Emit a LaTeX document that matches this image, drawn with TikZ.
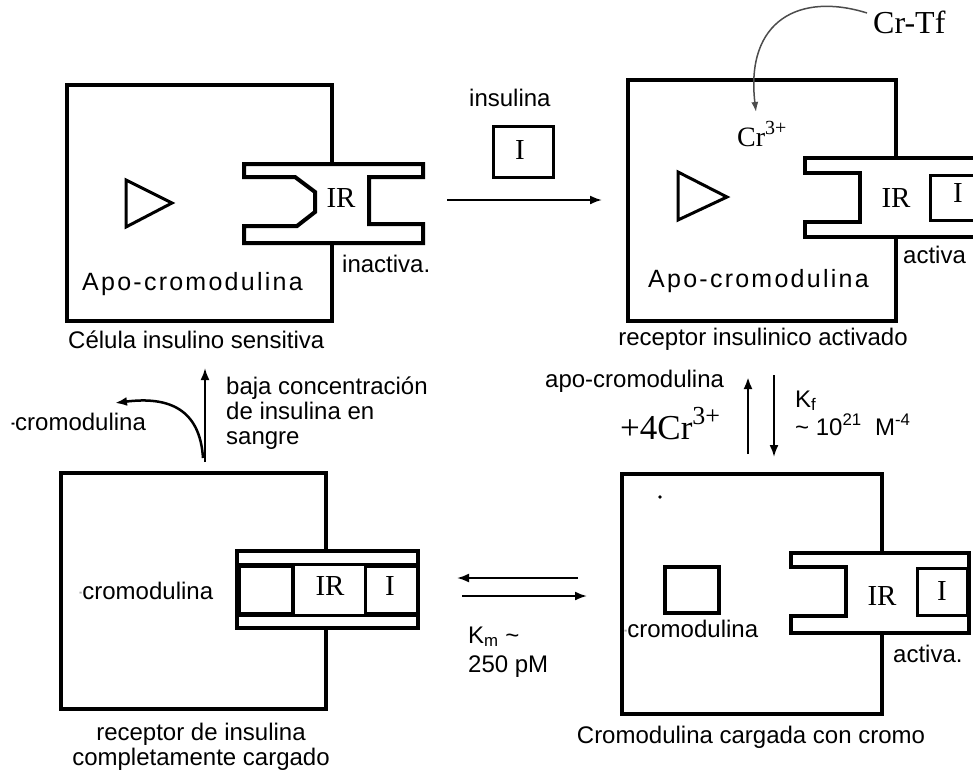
\documentclass[tikz,border=0pt]{standalone}
\usepackage{graphicx}
\usepackage{fontspec}
\setmainfont{Liberation Serif}
\newfontfamily\arial{Liberation Sans}
\newfontfamily\arialsp{Liberation Sans}[LetterSpace=9]
\usetikzlibrary{arrows.meta}
\begin{document}
\begin{tikzpicture}[x=1pt,y=-1pt,
  wall/.style={line width=4pt, line join=miter},
  thinwall/.style={line width=3pt, line join=miter},
  lbl/.style={font=\arial\fontsize{24}{26}\selectfont, inner sep=0pt, anchor=base west},
  lblc/.style={lbl, anchor=base},
  spaced/.style={font=\arialsp\fontsize{25}{27}\selectfont, inner sep=0pt, anchor=base west},
  srf/.style={font=\fontsize{29}{31}\selectfont, inner sep=0pt, anchor=base},
  arr/.style={-{Latex[length=12pt,width=9pt]}, line width=2.5pt},
  thinarr/.style={-{Latex[length=12pt,width=9pt]}, line width=2pt},
  faint/.style={color=black!35}
]
\useasboundingbox (0,0) rectangle (973,771);
\clip (0,0) rectangle (973,771);

% ---------- panel 1 : top left ----------
\draw[wall] (332,164) -- (332,85) -- (67,85) -- (67,321) -- (332,321) -- (332,243);
\draw[wall] (244,164) -- (423,164) -- (423,177) -- (369,177) -- (369,224) -- (423,224)
  -- (423,243) -- (244,243) -- (244,226) -- (297,226) -- (315,212) -- (315,192)
  -- (295,177) -- (244,177) -- cycle;
\draw[thinwall] (126,180) -- (172,203) -- (126,227) -- cycle;
\node[srf] (ir1) at (341,207) {IR};
\node[spaced] (apo1) at (82,290) {Apo-cromodulina};
\node[lbl] (inact) at (342,272) {inactiva.};
\node[lbl] (cel) at (68,348) {Célula insulino sensitiva};

% ---------- insulin ----------
\node[lbl] (ins) at (469,106) {insulina};
\draw[thinwall] (493,126) rectangle (553,177);
\node[srf] (i0) at (520,159) {I};
\coordinate (a1s) at (447,200);
\coordinate (a1e) at (602,200);
\draw[thinarr] (a1s) -- (a1e);

% ---------- panel 2 : top right ----------
\draw[wall] (896,158) -- (896,80) -- (628,80) -- (628,321) -- (896,321) -- (896,237);
\draw[wall] (1000,158) -- (805,158) -- (805,173) -- (860,173) -- (860,222) -- (805,222)
  -- (805,237) -- (1000,237);
\draw[thinwall] (1000,175) -- (930,175) -- (930,220) -- (1000,220);
\draw[thinwall] (678,172) -- (727,197) -- (678,220) -- cycle;
\node[srf] (ir2) at (896,207) {IR};
\node[srf] (i2) at (958,202) {I};
\node[lbl] (act2) at (903,263) {activa};
\node[spaced] (apo2) at (648,287) {Apo-cromodulina};
\node[lblc] (rec2) at (763,345) {receptor insulinico activado};
\node[font=\fontsize{32}{34}\selectfont, inner sep=0pt, anchor=base west] (crtf) at (873,33) {Cr-Tf};
\node[font=\fontsize{28}{30}\selectfont, inner sep=0pt, anchor=base west] (cr3) at (737,146) {Cr\raisebox{0.42em}{\fontsize{20}{20}\selectfont 3+}};
\coordinate (ctf) at (867,13);
\coordinate (ctip) at (756,112);
\draw[black!70, line width=1.5pt, -{Latex[length=10pt,width=7pt]}] (ctf) .. controls (800,-8) and (745,20) .. (ctip);

% ---------- vertical equilibrium ----------
\coordinate (u0) at (748,454);
\coordinate (u1) at (748,377);
\coordinate (d0) at (774,375);
\coordinate (d1) at (774,457);
\draw[arr] (u0) -- (u1);
\draw[thinarr] (d0) -- (d1);
\node[lbl] (apoc) at (545,387) {apo-cromodulina};
\node[font=\fontsize{35}{37}\selectfont, inner sep=0pt, anchor=base west] (cr4) at (620,439) {+4Cr\raisebox{0.42em}{\fontsize{26}{26}\selectfont 3+}};
\node[lbl] (kf) at (795,407) {K\textsubscript{f}};
\node[lbl] (kf2) at (795,435) {\symbol{126} 10\textsuperscript{21}\ \ M\textsuperscript{-4}};

% ---------- panel 3 : bottom left ----------
\draw[wall] (326,551) -- (326,473) -- (61,473) -- (61,709) -- (326,709) -- (326,628);
\draw[wall] (237,551) rectangle (418,628);
\draw[thinwall] (237,564) -- (418,564);
\draw[thinwall] (237,615) -- (418,615);
\draw[wall] (239,566) rectangle (293,614);
\draw[thinwall] (365,566) rectangle (417,613);
\node[srf] (ir3) at (330,595) {IR};
\node[srf] (i3) at (390,595) {I};
\node[lbl] (cromo3) at (79,599) {{\color{black!30}\scalebox{0.4}[1]{-}}cromodulina};
\node[lbl] (cromo0) at (11,430) {\scalebox{0.5}[1]{-}cromodulina};
\coordinate (v0) at (205,462);
\coordinate (v1) at (205,368);
\draw[thinarr] (v0) -- (v1);
\coordinate (c0) at (203,458);
\coordinate (c1) at (115,403);
\draw[arr] (c0) .. controls (200,410) and (170,396) .. (c1);
\node[lbl] (baja1) at (226,394) {baja concentración};
\node[lbl] (baja2) at (226,419) {de insulina en};
\node[lbl] (baja3) at (226,444) {sangre};
\node[lblc] (rec3a) at (201,740) {receptor de insulina};
\node[lblc] (rec3b) at (201,765) {completamente cargado};

% ---------- horizontal equilibrium ----------
\coordinate (h0) at (578,578);
\coordinate (h1) at (457,578);
\coordinate (h2) at (462,596);
\coordinate (h3) at (587,596);
\draw[thinarr] (h0) -- (h1);
\draw[thinarr] (h2) -- (h3);
\node[lbl] (km) at (468,643) {K\textsubscript{m} \symbol{126}};
\node[lbl] (km2) at (468,672) {250 pM};

% ---------- panel 4 : bottom right ----------
\draw[wall] (882,553) -- (882,474) -- (622,474) -- (622,714) -- (882,714) -- (882,633);
\draw[wall] (791,553) -- (969,553) -- (969,633) -- (791,633) -- (791,616) -- (846,616)
  -- (846,567) -- (791,567) -- cycle;
\draw[thinwall] (917,568) rectangle (967,615);
\draw[wall] (665,567) rectangle (719,613);
\fill (660,497) circle (1.8);
\node[srf] (ir4) at (882,605) {IR};
\node[srf] (i4) at (942,600) {I};
\node[lbl] (cromo4) at (624,637) {{\color{black!30}\scalebox{0.4}[1]{-}}cromodulina};
\node[lbl] (act4) at (893,662) {activa.};
\node[lblc] (rec4) at (751,743) {Cromodulina cargada con cromo};
\end{tikzpicture}
\end{document}
